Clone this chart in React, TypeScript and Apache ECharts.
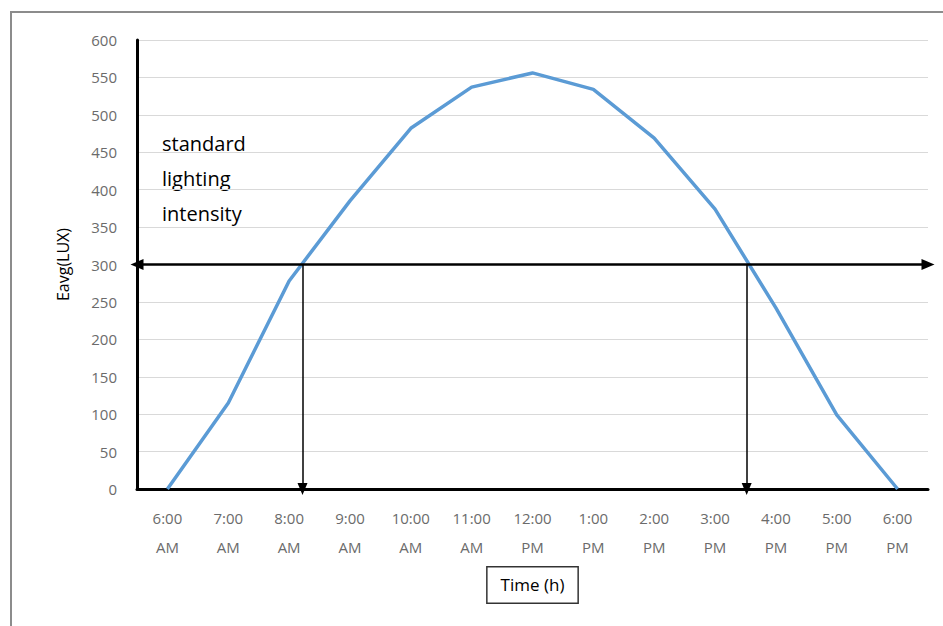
import React, { useEffect, useRef } from "react";
import * as echarts from "echarts";

const categories = [
  "6:00\nAM", "7:00\nAM", "8:00\nAM", "9:00\nAM", "10:00\nAM", "11:00\nAM", "12:00\nPM",
  "1:00\nPM", "2:00\nPM", "3:00\nPM", "4:00\nPM", "5:00\nPM", "6:00\nPM",
];
const eavg = [0, 115, 278, 385, 482, 537, 556, 534, 469, 374, 242, 99, 0];
const standardLux = 300;
// positions (in hour index units from 6:00 AM) where the curve crosses the standard
const crossings = [2.22, 9.52];
const noteLines = ["standard", "lighting", "intensity"];

const FONT = "'Open Sans', 'Liberation Sans', sans-serif";

export default function App() {
  const ref = useRef<HTMLDivElement>(null);
  useEffect(() => {
    const chart = echarts.init(ref.current!, null, { renderer: "svg" });
    const n = categories.length;
    chart.setOption({
      animation: false,
      backgroundColor: "#ffffff",
      grid: { left: 137, right: 15, top: 40, bottom: 137, containLabel: false },
      xAxis: [
        {
          type: "category",
          data: categories,
          boundaryGap: true,
          axisLine: { show: true, onZero: false, lineStyle: { color: "#000", width: 3 } },
          axisTick: { show: false },
          axisLabel: {
            color: "#6b6b6b",
            fontFamily: FONT,
            fontSize: 15,
            lineHeight: 29,
            margin: 14,
            interval: 0,
          },
          splitLine: { show: false },
          name: "Time (h)",
          nameLocation: "middle",
          nameGap: 76,
          nameTextStyle: {
            color: "#000",
            fontFamily: FONT,
            fontSize: 17,
            borderColor: "#333",
            borderWidth: 1.5,
            padding: [9, 13, 9, 13],
            backgroundColor: "#fff",
          },
        },
        {
          type: "value",
          min: -0.5,
          max: n - 0.5,
          show: false,
        },
      ],
      yAxis: {
        type: "value",
        min: 0,
        max: 600,
        interval: 50,
        axisLine: { show: true, onZero: false, lineStyle: { color: "#000", width: 3 } },
        axisTick: { show: false },
        axisLabel: { color: "#6b6b6b", fontFamily: FONT, fontSize: 15, margin: 20 },
        splitLine: { show: true, lineStyle: { color: "#d9d9d9", width: 1 } },
        name: "Eavg(LUX)",
        nameLocation: "middle",
        nameGap: 66,
        nameRotate: 90,
        nameTextStyle: { color: "#000", fontFamily: FONT, fontSize: 16 },
      },
      graphic: [
        {
          type: "polyline",
          shape: { points: [[11, 640], [11, 12], [960, 12]] },
          style: { fill: "none", stroke: "#8c8c8c", lineWidth: 2 },
          silent: true,
          z: -10,
        },
        {
          type: "text",
          left: 162,
          top: 126,
          style: {
            text: noteLines.join("\n"),
            font: `20px ${FONT}`,
            fill: "#000",
            lineHeight: 35,
          },
        },
      ],
      series: [
        {
          type: "line",
          xAxisIndex: 1,
          data: [],
          silent: true,
          z: 3,
          markLine: {
            silent: true,
            symbol: ["triangle", "triangle"],
            symbolSize: [11, 13],
            label: { show: false },
            lineStyle: { color: "#000", type: "solid" },
            data: [
              [
                { coord: [-0.5, standardLux], symbol: "triangle", lineStyle: { width: 2.5, color: "#000" } },
                { coord: [n - 0.5, standardLux], symbol: "triangle" },
              ],
              ...crossings.map((c) => [
                { coord: [c, standardLux], symbol: "none", lineStyle: { width: 1.5, color: "#000" } },
                { coord: [c, 0], symbol: "triangle", symbolSize: [10, 12] },
              ]),
            ],
          },
        },
        {
          type: "line",
          data: eavg,
          showSymbol: false,
          symbol: "none",
          lineStyle: { color: "#5b9bd5", width: 3.5 },
          z: 4,
        },
      ],
    });
    return () => chart.dispose();
  }, []);
  return <div ref={ref} style={{ width: 943, height: 626, position: "absolute", left: 0, top: 0 }} />;
}
